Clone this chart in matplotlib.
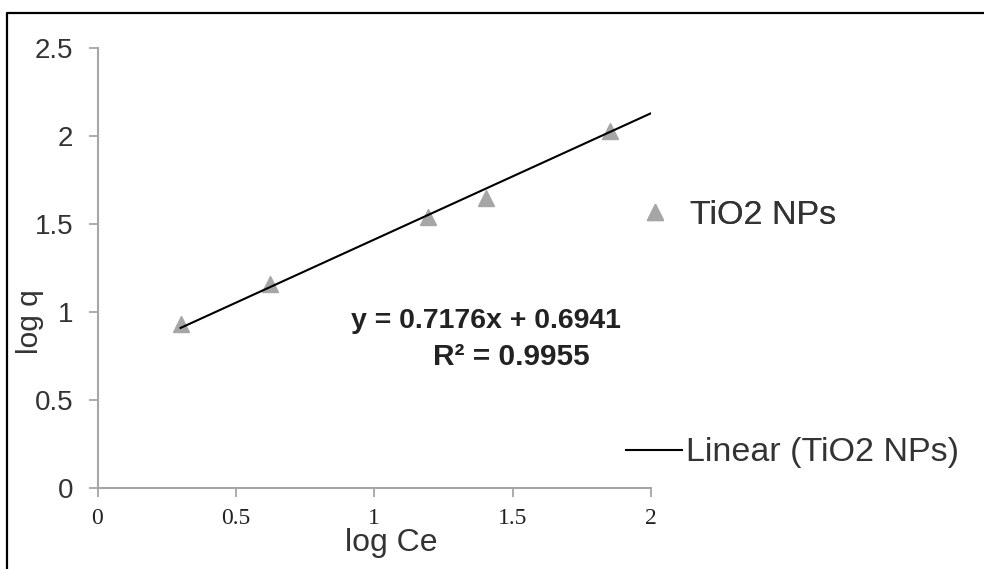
import matplotlib
matplotlib.use("Agg")
import matplotlib.pyplot as plt
from matplotlib.lines import Line2D

# Data
log_ce = [0.30, 0.625, 1.193, 1.404, 1.851]
log_q = [0.93, 1.16, 1.54, 1.65, 2.03]
slope = 0.7176
intercept = 0.6941
fit_x = [0.30, 2.0]
x_ticks = [0, 0.5, 1, 1.5, 2]
x_tick_labels = ["0", "0.5", "1", "1.5", "2"]
y_ticks = [0, 0.5, 1, 1.5, 2, 2.5]
y_tick_labels = ["0", "0.5", "1", "1.5", "2", "2.5"]
series_name = "TiO2 NPs"
trend_name = "Linear (TiO2 NPs)"
eq_text = "y = 0.7176x + 0.6941"
r2_text = "R² = 0.9955"

W, H = 984, 569
fig = plt.figure(figsize=(W / 100, H / 100), dpi=100)
ax = fig.add_axes([97.5 / W, 1 - 488 / H, (651 - 97.5) / W, (488 - 48) / H])

gray = "#a6a6a6"
sc, = ax.plot(log_ce, log_q, linestyle="none", marker="^", markersize=12,
              color=gray, markeredgecolor=gray, label=series_name, zorder=2)
fy = [slope * v + intercept for v in fit_x]
ln, = ax.plot(fit_x, fy, color="black", linewidth=1.5, label=trend_name, zorder=3)

ax.set_xlim(0, 2)
ax.set_ylim(0, 2.5)
ax.set_xticks(x_ticks)
ax.set_xticklabels(x_tick_labels, family="Liberation Serif", fontsize=17, color="#222222")
ax.set_yticks(y_ticks)
ax.set_yticklabels(y_tick_labels, family="Liberation Sans", fontsize=20, color="#333333")
for s in ["top", "right"]:
    ax.spines[s].set_visible(False)
for s in ["left", "bottom"]:
    ax.spines[s].set_color(gray)
    ax.spines[s].set_linewidth(1.5)
ax.tick_params(axis="both", direction="out", length=6.5, width=1.3, color=gray)
ax.tick_params(axis="y", pad=11)
ax.tick_params(axis="x", pad=8)
ax.patch.set_alpha(0)

fig.text(30 / W, 1 - 322 / H, "log q", rotation=90, ha="center", va="center",
         family="Liberation Sans", fontsize=21.5, color="#333333")
fig.text(391 / W, 1 - 543 / H, "log Ce", ha="center", va="center",
         family="Liberation Sans", fontsize=23, color="#333333")

ax.text(1.404, 0.949, eq_text, ha="center", va="center", fontsize=20.5,
        family="Liberation Sans", fontweight="bold", color="#222222")
ax.text(1.494, 0.744, r2_text, ha="center", va="center", fontsize=21.5,
        family="Liberation Sans", fontweight="bold", color="#222222")

fs_leg = 24.5
em = fs_leg * 100 / 72.0
leg1 = fig.legend(handles=[sc], loc="center left",
                  bbox_to_anchor=((655 - em / 2) / W, 1 - 215 / H), frameon=False,
                  prop={"family": "Liberation Sans", "size": fs_leg},
                  handlelength=1.0, handletextpad=(690 - 655 - em / 2) / em,
                  borderpad=0, borderaxespad=0)
for t in leg1.get_texts():
    t.set_color("#333333")
leg2 = fig.legend(handles=[ln], loc="center left",
                  bbox_to_anchor=(626 / W, 1 - 453 / H), frameon=False,
                  prop={"family": "Liberation Sans", "size": fs_leg},
                  handlelength=56 / em, handletextpad=4 / em, borderpad=0, borderaxespad=0)
for t in leg2.get_texts():
    t.set_color("#333333")
fig.add_artist(leg1)

# outer frame
fig.add_artist(Line2D([7 / W, 7 / W, 1.0], [0.0, 1 - 13 / H, 1 - 13 / H],
                      transform=fig.transFigure, color="black", linewidth=1.6))

fig.savefig("out.png", dpi=100)
